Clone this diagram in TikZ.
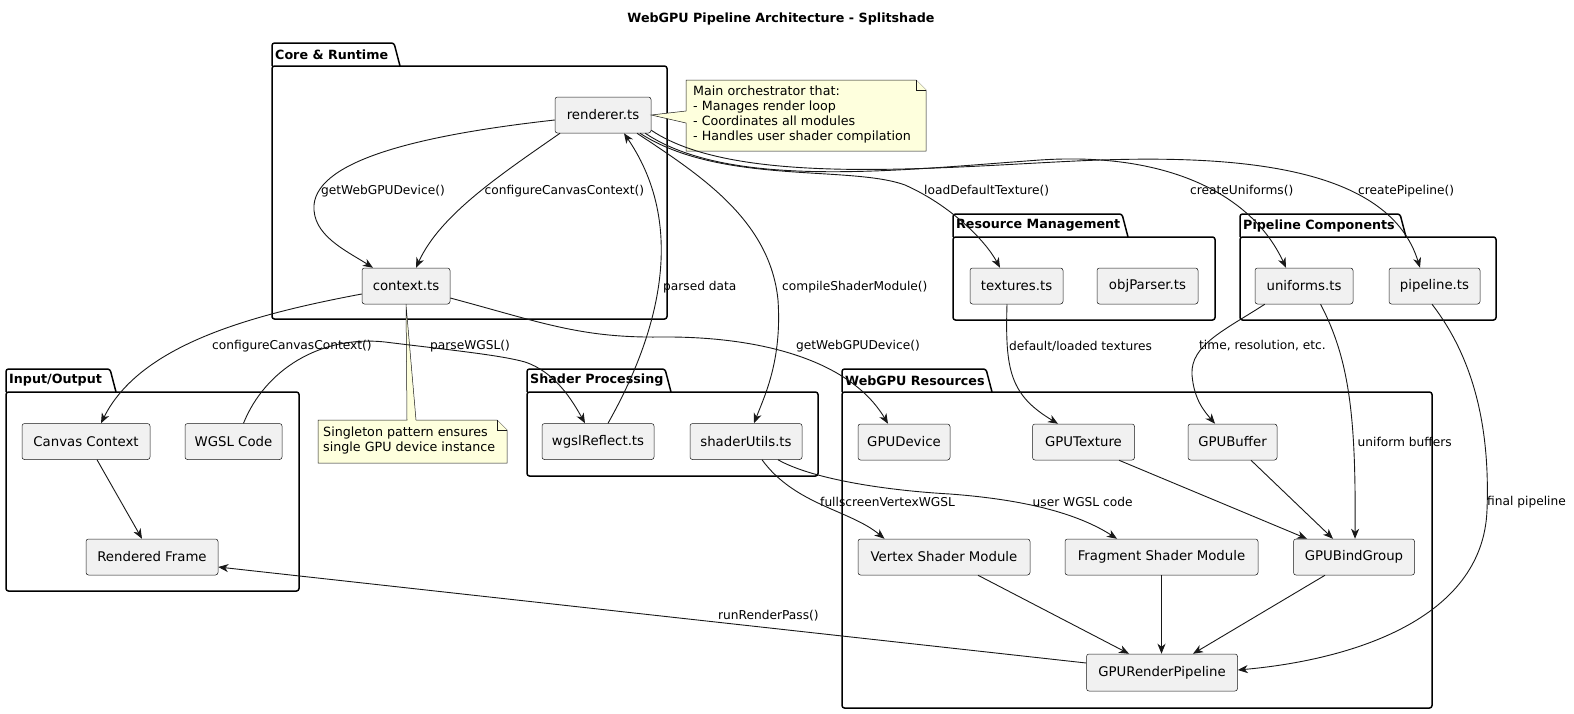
\documentclass[tikz,border=0pt]{standalone}
\usepackage{fontspec}
\setmainfont{DejaVu Sans}
\usetikzlibrary{arrows.meta}
\definecolor{cfill}{HTML}{F1F1F1}
\definecolor{cline}{HTML}{181818}
\definecolor{nfill}{HTML}{FEFFDD}
\tikzset{
 comp/.style={draw=cline, fill=cfill, line width=0.5pt, rounded corners=2.5pt, minimum height=36pt, inner sep=0pt, font=\fontsize{13.3}{16}\selectfont},
 pkg/.style={draw=black, line width=1.5pt, rounded corners=2.5pt},
 pkgtitle/.style={font=\bfseries\fontsize{12.7}{15}\selectfont, inner sep=0pt, anchor=west},
 conn/.style={draw=cline, line width=0.9pt, -{Stealth[length=10pt,width=8pt,inset=3pt]}},
 lbl/.style={font=\fontsize{12.2}{14}\selectfont, inner sep=0pt, anchor=west},
 notebox/.style={fill=nfill, draw=cline, line width=0.5pt},
 notetext/.style={font=\fontsize{12.7}{15}\selectfont, align=left, inner sep=0pt, anchor=north west}
}
\newcommand{\pkgbox}[7]{%
 \draw[pkg] (#1,#4) -- (#1,#2) -- ({#3-6},#2) -- (#3,#4);
 \draw[pkg] (#1,#4) rectangle (#5,#6);
 \node[pkgtitle] at ({#1+3},{(#2+#4)/2}) {#7};
}
\begin{document}
\begin{tikzpicture}[x=1pt,y=-1pt]
\fill[white] (0,0) rectangle (1574,713);
\useasboundingbox (0,0) rectangle (1574,713);

\node[font=\bfseries\fontsize{12.7}{15}\selectfont, inner sep=0pt] (title) at (781,19) {WebGPU Pipeline Architecture - Splitshade};

% packages
\pkgbox{272}{43}{400}{66}{667}{319}{Core \& Runtime}
\pkgbox{953}{214}{1128}{237}{1215}{320}{Resource Management}
\pkgbox{1240}{214}{1406}{237}{1496}{320}{Pipeline Components}
\pkgbox{6}{369}{116}{392}{299}{591}{Input/Output}
\pkgbox{527}{369}{671}{392}{818}{476}{Shader Processing}
\pkgbox{842}{369}{992}{392}{1432}{708}{WebGPU Resources}

% components
\node[comp, minimum width=96pt] (renderer) at (603,115) {renderer.ts};
\node[comp, minimum width=88pt] (context) at (406,286) {context.ts};
\node[comp, minimum width=93pt] (textures) at (1016.5,286) {textures.ts};
\node[comp, minimum width=101pt] (objparser) at (1147.5,286) {objParser.ts};
\node[comp, minimum width=98pt] (uniforms) at (1304,286) {uniforms.ts};
\node[comp, minimum width=91pt] (pipeline) at (1434.5,286) {pipeline.ts};
\node[comp, minimum width=128pt] (canvas) at (86,441.5) {Canvas Context};
\node[comp, minimum width=97pt] (wgslcode) at (233.5,441.5) {WGSL Code};
\node[comp, minimum width=132pt] (rendered) at (152,557) {Rendered Frame};
\node[comp, minimum width=112pt] (wgslreflect) at (598,441.5) {wgslReflect.ts};
\node[comp, minimum width=112pt] (shaderutils) at (746,441.5) {shaderUtils.ts};
\node[comp, minimum width=92pt] (gpudevice) at (904,442) {GPUDevice};
\node[comp, minimum width=102pt] (gputexture) at (1083.5,442) {GPUTexture};
\node[comp, minimum width=89pt] (gpubuffer) at (1232.5,442) {GPUBuffer};
\node[comp, minimum width=172pt] (vertex) at (944,557) {Vertex Shader Module};
\node[comp, minimum width=193pt] (fragment) at (1161.5,557) {Fragment Shader Module};
\node[comp, minimum width=121pt] (bindgroup) at (1354,557) {GPUBindGroup};
\node[comp, minimum width=151pt, minimum height=37pt] (rp) at (1162,672.5) {GPURenderPipeline};

% notes
\draw[notebox] (686,80) -- (916,80) -- (926,90) -- (926,151) -- (686,151) -- (686,123) -- (renderer.east) -- (686,111) -- cycle;
\draw[notebox] (916,80) -- (916,90) -- (926,90);
\node[notetext] (note1) at (693,86) {Main orchestrator that:\\- Manages render loop\\- Coordinates all modules\\- Handles user shader compilation};
\draw[notebox] (318,420) -- (407,420) -- (context.south) -- (416,420) -- (497,420) -- (507,430) -- (507,463) -- (318,463) -- cycle;
\draw[notebox] (497,420) -- (497,430) -- (507,430);
\node[notetext] (note2) at (323,427) {Singleton pattern ensures\\single GPU device instance};

% connectors
\draw[conn] ([yshift=-5pt]renderer.west) .. controls (420,135) and (318,160) .. (314,205) .. controls (312,235) and (345,250) .. ([xshift=-33pt]context.north);
\draw[conn] ([xshift=-43pt]renderer.south) .. controls (500,175) and (440,215) .. ([xshift=10pt]context.north);
\draw[conn] ([xshift=10pt]wgslreflect.north) .. controls (655,340) and (690,230) .. ([xshift=21pt]renderer.south);
\draw[conn] ([xshift=34pt]renderer.south) .. controls (700,175) and (770,220) .. (778,300) .. controls (782,360) and (765,395) .. ([xshift=8pt]shaderutils.north);
\draw[conn] ([xshift=37pt]renderer.south) .. controls (720,185) and (850,165) .. (905,185) .. controls (950,205) and (985,240) .. ([xshift=-16.5pt]textures.north);
\draw[conn] ([xshift=-6pt]renderer.south east) .. controls (730,190) and (900,170) .. (1040,160) .. controls (1160,152) and (1250,190) .. ([xshift=-18pt]uniforms.north);
\draw[conn] ([yshift=3pt]renderer.south east) .. controls (740,190) and (960,165) .. (1100,160) .. controls (1250,155) and (1390,170) .. ([xshift=-14.5pt]pipeline.north);
\draw[conn] ([yshift=-8pt]context.west) .. controls (250,315) and (140,345) .. ([xshift=15pt]canvas.north);
\draw[conn] ([xshift=10pt]wgslcode.north) .. controls (265,370) and (320,335) .. (385,342) .. controls (450,350) and (500,355) .. (525,362) .. controls (555,372) and (572,400) .. ([xshift=-13pt]wgslreflect.north);
\draw[conn] ([yshift=-12pt]context.east) .. controls (540,322) and (580,338) .. (660,337) .. controls (760,336) and (850,360) .. ([xshift=-16pt]gpudevice.north);
\draw[conn] ([xshift=11pt]canvas.south) -- ([xshift=-10pt]rendered.north);
\draw[conn] ([yshift=9.5pt]rp.west) -- ([yshift=-10pt]rendered.east);
\draw[conn] ([xshift=-9.5pt]textures.south) .. controls (1005,370) and (1010,395) .. ([xshift=-25.5pt]gputexture.north);
\draw[conn] ([xshift=10pt]uniforms.south west) .. controls (1225,330) and (1190,345) .. (1192,375) .. controls (1194,400) and (1205,412) .. ([xshift=-17.5pt]gpubuffer.north);
\draw[conn] ([xshift=16.5pt]uniforms.south) .. controls (1350,360) and (1356,420) .. ([xshift=1pt]bindgroup.north);
\draw[conn] ([xshift=-2.5pt]pipeline.south) .. controls (1475,360) and (1490,430) .. (1487,510) .. controls (1483,620) and (1350,660) .. ([yshift=2.5pt]rp.east);
\draw[conn] ([xshift=16pt]shaderutils.south) .. controls (795,505) and (850,510) .. ([xshift=-59.5pt]vertex.north);
\draw[conn] ([xshift=32pt]shaderutils.south) .. controls (810,478) and (880,490) .. (950,494) .. controls (1030,500) and (1080,515) .. ([xshift=-44.5pt]fragment.north);
\draw[conn] ([xshift=35.5pt]gputexture.south) -- ([xshift=-47pt]bindgroup.north);
\draw[conn] ([xshift=18.5pt]gpubuffer.south) -- ([xshift=-21pt]bindgroup.north);
\draw[conn] ([xshift=34pt]vertex.south) -- ([xshift=-33pt]rp.north);
\draw[conn] (fragment.south) -- (fragment.south |- rp.north);
\draw[conn] ([xshift=-29pt]bindgroup.south) -- ([xshift=31pt]rp.north);

% labels
\node[lbl] (lgd1) at (321,191) {getWebGPUDevice()};
\node[lbl] (lcc1) at (484.5,191) {configureCanvasContext()};
\node[lbl] (lpd) at (663,287) {parsed data};
\node[lbl] (lcsm) at (782,287) {compileShaderModule()};
\node[lbl] (lldt) at (924,191) {loadDefaultTexture()};
\node[lbl] (lcu) at (1190,191) {createUniforms()};
\node[lbl] (lcp) at (1358,191) {createPipeline()};
\node[lbl] (lcc2) at (212,346) {configureCanvasContext()};
\node[lbl] (lpw) at (430,346) {parseWGSL()};
\node[lbl] (lgd2) at (796,346) {getWebGPUDevice()};
\node[lbl] (ltex) at (1009,346) {default/loaded textures};
\node[lbl] (ltime) at (1199,346) {time, resolution, etc.};
\node[lbl] (lub) at (1357.5,442) {uniform buffers};
\node[lbl] (lfp) at (1487,502) {final pipeline};
\node[lbl] (lfsv) at (820,502) {fullscreenVertexWGSL};
\node[lbl] (luser) at (1032.5,502) {user WGSL code};
\node[lbl] (lrrp) at (718,616) {runRenderPass()};
\end{tikzpicture}
\end{document}
